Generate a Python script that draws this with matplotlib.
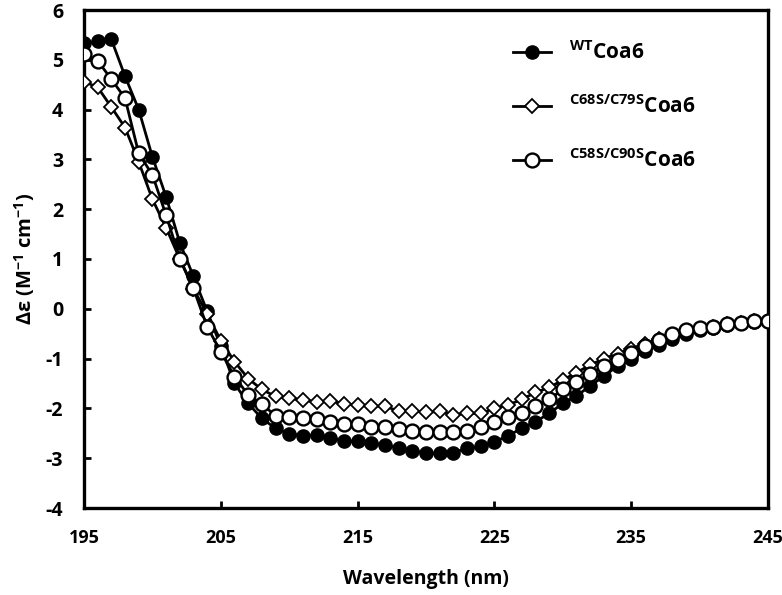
import numpy as np
import matplotlib
matplotlib.use("Agg")
import matplotlib.pyplot as plt

main_font = 'Open Sans'

plt.rcParams['font.family'] = [main_font, 'DejaVu Sans']
plt.rcParams['font.weight'] = 'bold'
plt.rcParams['axes.unicode_minus'] = False
plt.rcParams['mathtext.fontset'] = 'custom'
plt.rcParams['mathtext.rm'] = main_font + ':bold'
plt.rcParams['mathtext.bf'] = main_font + ':bold'
plt.rcParams['mathtext.it'] = main_font + ':bold'

wavelength = list(range(195, 246))

wt = [5.33, 5.37, 5.41, 4.67, 4.00, 3.05, 2.25, 1.33, 0.65, -0.05,
      -0.75, -1.50, -1.90, -2.20, -2.40, -2.51, -2.55, -2.54, -2.59, -2.65,
      -2.66, -2.69, -2.74, -2.79, -2.86, -2.89, -2.90, -2.89, -2.80, -2.76,
      -2.67, -2.55, -2.40, -2.27, -2.10, -1.90, -1.75, -1.55, -1.35, -1.15,
      -1.00, -0.85, -0.72, -0.60, -0.50, -0.43, -0.38, -0.33, -0.29, -0.26, -0.25]

c68s = [4.56, 4.45, 4.05, 3.64, 2.95, 2.20, 1.63, 1.00, 0.40, -0.10,
        -0.64, -1.06, -1.40, -1.62, -1.76, -1.80, -1.83, -1.87, -1.85, -1.91,
        -1.93, -1.95, -1.96, -2.05, -2.05, -2.08, -2.06, -2.13, -2.10, -2.10,
        -2.00, -1.93, -1.82, -1.68, -1.58, -1.43, -1.28, -1.13, -1.00, -0.90,
        -0.80, -0.70, -0.60, -0.53, -0.45, -0.40, -0.36, -0.31, -0.28, -0.25, -0.24]

c58s = [5.12, 4.98, 4.61, 4.23, 3.12, 2.69, 1.88, 1.01, 0.41, -0.36,
        -0.86, -1.36, -1.73, -1.91, -2.15, -2.18, -2.20, -2.22, -2.27, -2.31,
        -2.31, -2.38, -2.38, -2.42, -2.45, -2.47, -2.47, -2.47, -2.45, -2.37,
        -2.27, -2.18, -2.10, -1.95, -1.82, -1.62, -1.46, -1.30, -1.15, -1.03,
        -0.88, -0.75, -0.63, -0.51, -0.43, -0.39, -0.36, -0.31, -0.28, -0.24, -0.24]

labels = [r'$^{\mathrm{WT}}$Coa6', r'$^{\mathrm{C68S/C79S}}$Coa6', r'$^{\mathrm{C58S/C90S}}$Coa6']

fig = plt.figure(figsize=(7.82, 5.95), dpi=100)
ax = fig.add_axes([84/782, 1-508/595, (768-84)/782, 498/595])

ax.plot(wavelength, wt, color='black', lw=2.0, marker='o', ms=9.5,
        mfc='black', mec='black', label=labels[0], zorder=3)
ax.plot(wavelength, c68s, color='black', lw=2.0, marker='D', ms=7,
        mfc='white', mec='black', mew=1.3, label=labels[1], zorder=4)
ax.plot(wavelength, c58s, color='black', lw=2.0, marker='o', ms=10,
        mfc='white', mec='black', mew=1.7, label=labels[2], zorder=5)

ax.set_xlim(195, 245)
ax.set_ylim(-4, 6)
ax.set_xticks([195, 205, 215, 225, 235, 245])
ax.set_yticks(range(-4, 7))
for s in ax.spines.values():
    s.set_linewidth(2.4)
ax.tick_params(direction='in', length=5, width=2, labelsize=14)
ax.tick_params(axis='x', labelsize=13, pad=15)
ax.tick_params(axis='y', pad=15)
for t in ax.get_xticklabels() + ax.get_yticklabels():
    t.set_fontweight('bold')

ax.set_xlabel('Wavelength (nm)', fontsize=14, fontweight='bold', labelpad=16)
ax.set_ylabel(r'Δε (M$^{-1}$ cm$^{-1}$)', fontsize=14.5, fontweight='bold', labelpad=6)

leg = ax.legend(loc='upper left', bbox_to_anchor=(0.6, 0.975), frameon=False,
                fontsize=15, handlelength=1.8, labelspacing=1.5, handletextpad=0.9)

fig.savefig('out.png', dpi=100)
